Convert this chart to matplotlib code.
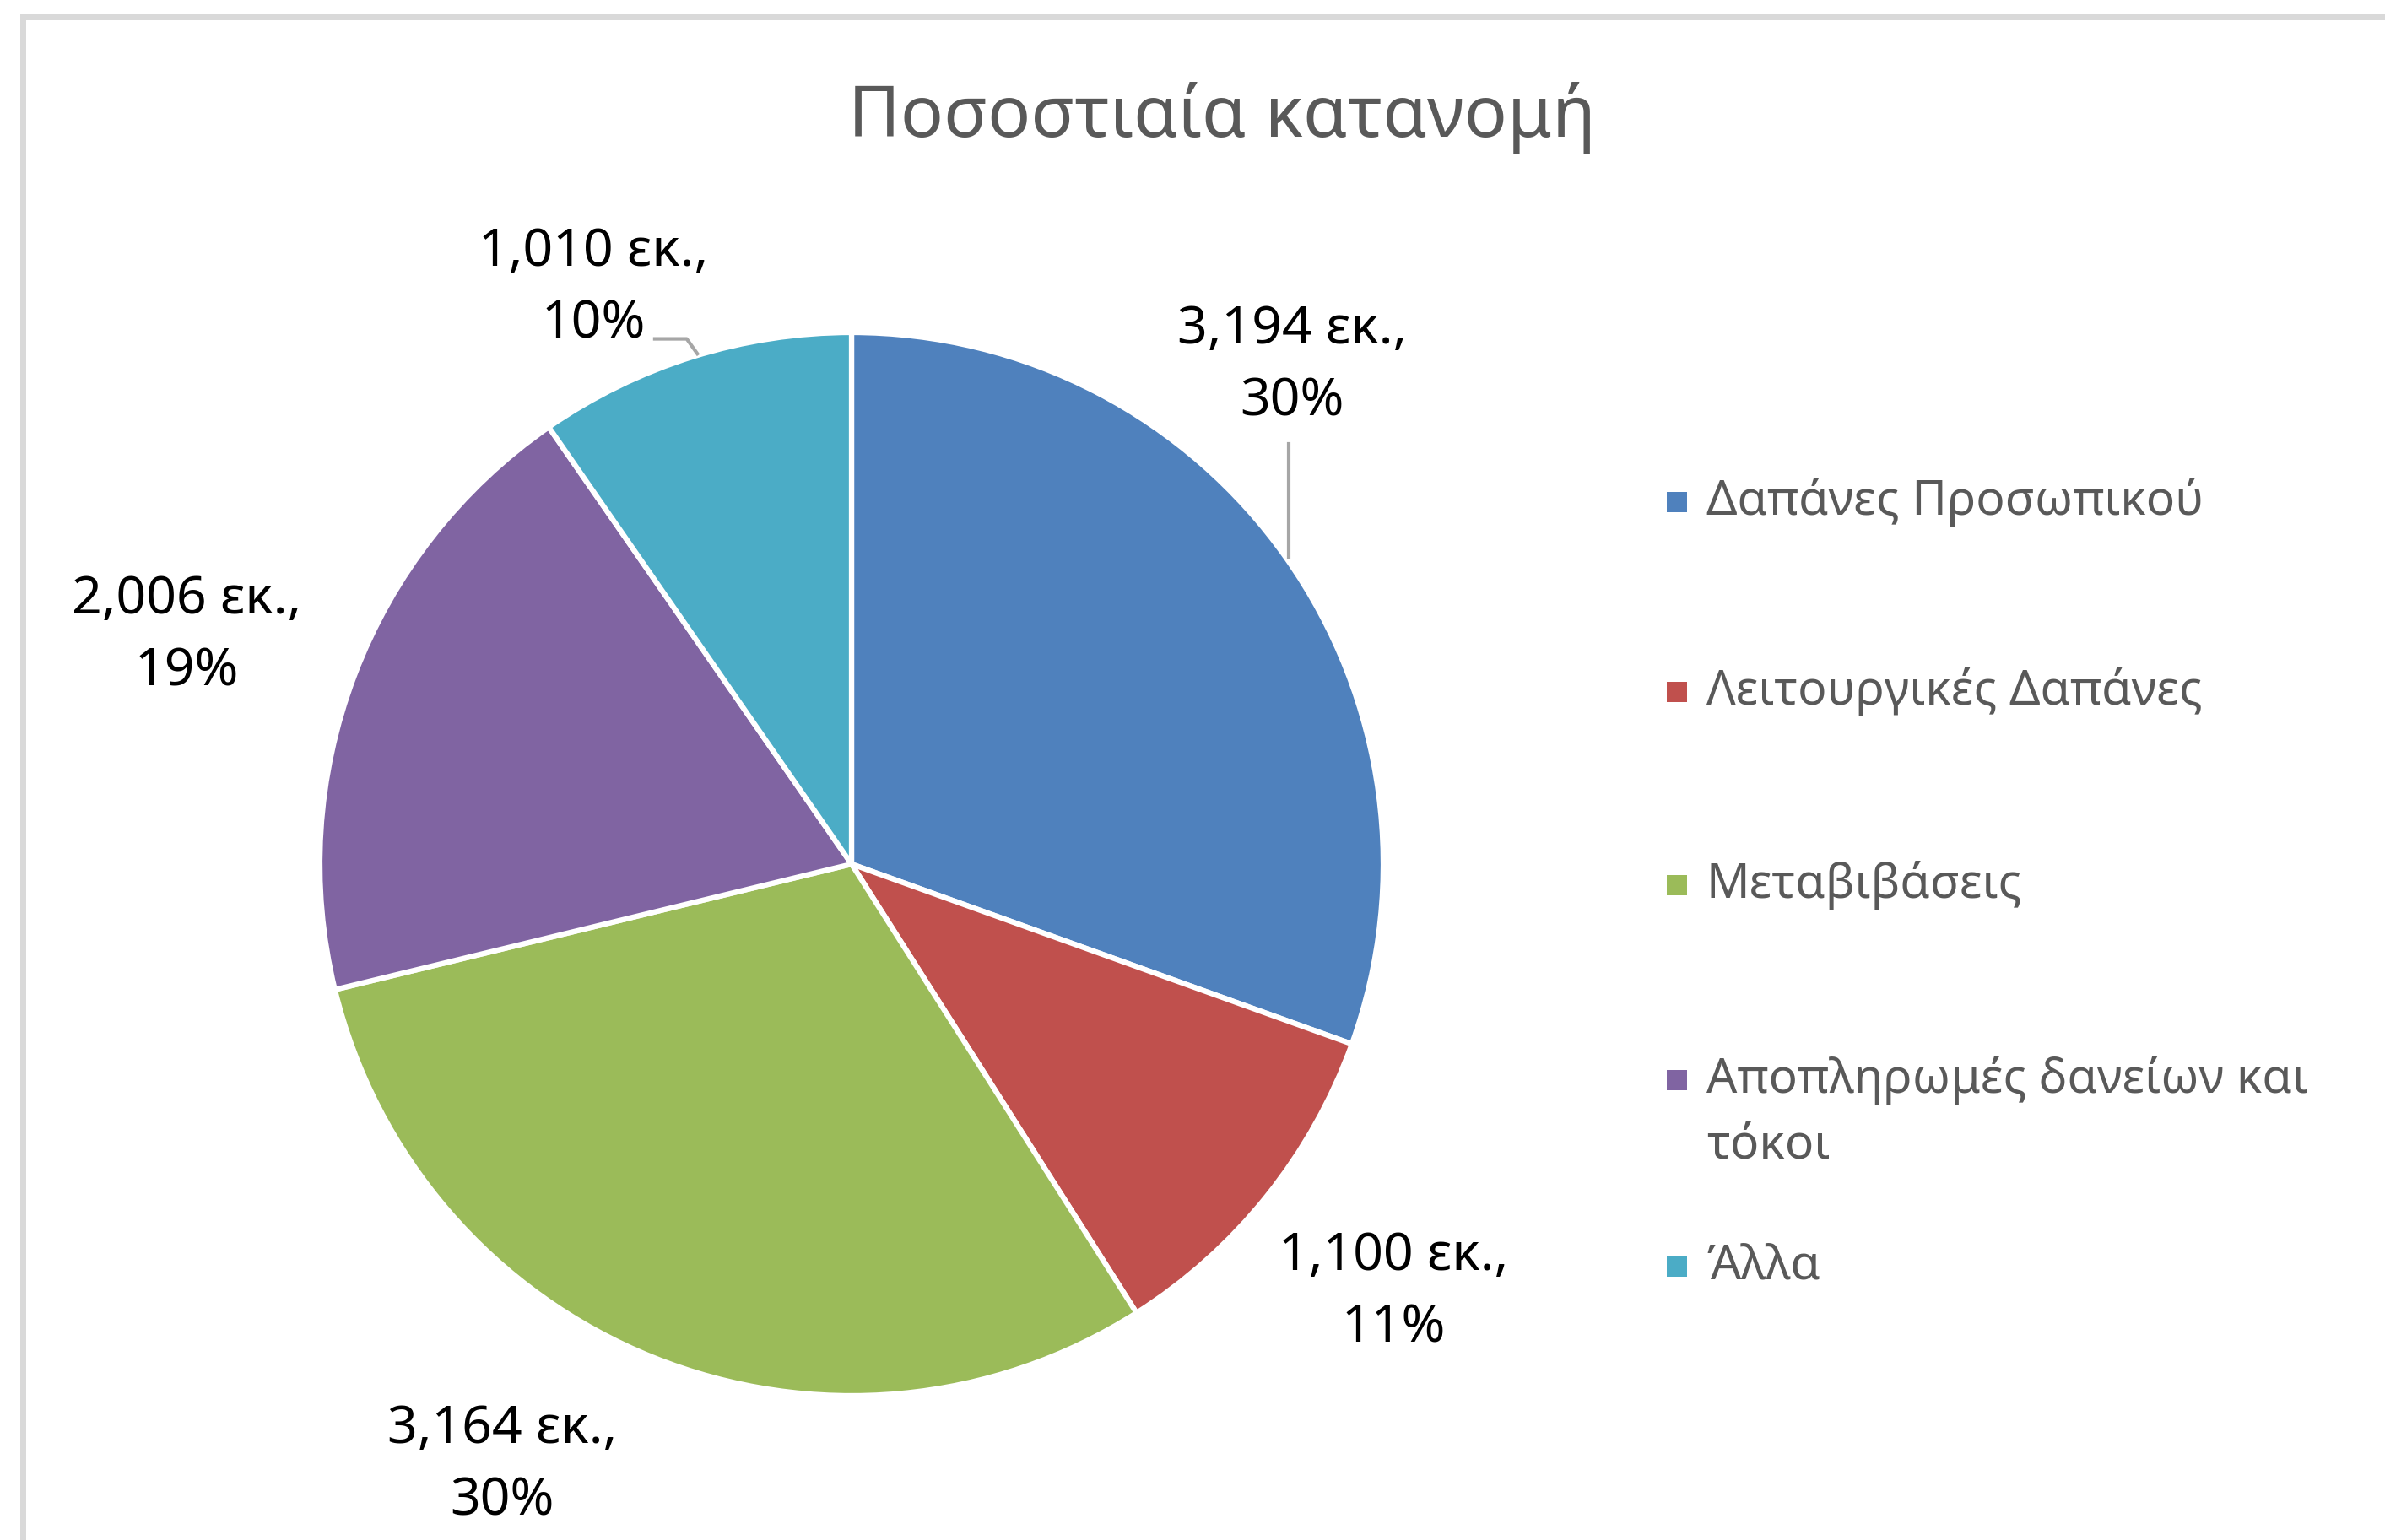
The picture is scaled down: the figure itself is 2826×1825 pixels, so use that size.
import matplotlib
matplotlib.use('Agg')
import matplotlib.pyplot as plt
from matplotlib.patches import Rectangle
from matplotlib.lines import Line2D

plt.rcParams['font.family'] = ['Noto Sans', 'DejaVu Sans']

# Δεδομένα
categories = ['Δαπάνες Προσωπικού', 'Λειτουργικές Δαπάνες', 'Μεταβιβάσεις',
              'Αποπληρωμές δανείων και\nτόκοι', 'Άλλα']
values = [3194, 1100, 3164, 2006, 1010]
colors = ['#4F81BD', '#C0504D', '#9BBB59', '#8064A2', '#4BACC6']
title = 'Ποσοστιαία κατανομή'

# θέσεις ετικετών (σε μονάδες ακτίνας)
label_pos = [(0.829, 0.937), (1.02, -0.806), (-0.657, -1.131),
             (-1.251, 0.429), (-0.486, 1.083)]

W, H, DPI = 2826, 1825, 100
fig = plt.figure(figsize=(W / DPI, H / DPI), dpi=DPI)

# πλαίσιο γραφήματος (πάνω και αριστερά)
fig.add_artist(Rectangle((26.5 / W, -0.05), 1.2, 1 - 20 / H + 0.05,
                         transform=fig.transFigure, fill=False,
                         edgecolor='#D9D9D9', linewidth=7 * 72 / DPI))

R = 630
cx, cy = 1009, H - 1024
lim = 1.4
side = 2 * lim * R
ax = fig.add_axes([(cx - side / 2) / W, (cy - side / 2) / H, side / W, side / H])
wedges, _ = ax.pie(values, colors=colors, startangle=90, counterclock=False,
                   wedgeprops=dict(edgecolor='white', linewidth=4.5))
ax.set_xlim(-lim, lim)
ax.set_ylim(-lim, lim)
ax.set_aspect('equal')
ax.axis('off')

total = sum(values)
for v, (x, y) in zip(values, label_pos):
    ax.text(x, y, f'{v:,} εκ.,\n{v / total * 100:.0f}%', ha='center', va='center',
            fontsize=45, color='#000000', linespacing=1.5)

# γραμμές οδηγοί
ax.add_line(Line2D([0.823, 0.823], [0.79, 0.578], color='#A6A6A6', lw=3))
ax.add_line(Line2D([-0.37, -0.31, -0.29], [0.988, 0.988, 0.96], color='#A6A6A6', lw=3))

fig.text(1448 / W, 1 - 140 / H, title, ha='center', va='center',
         fontsize=61, color='#595959')

# υπόμνημα
leg_y = [595, 820, 1049, 1280, 1501]
s = 24
for name, c, y in zip(categories, colors, leg_y):
    fig.add_artist(Rectangle((1975 / W, (H - y - s / 2) / H), s / W, s / H,
                             transform=fig.transFigure, facecolor=c, edgecolor='none'))
    ty = (H - y) / H
    for i, ln in enumerate(name.split('\n')):
        fig.text(2022 / W, ty - i * 78 / H, ln, ha='left', va='center',
                 fontsize=41, color='#595959')

fig.savefig('out.png', dpi=DPI, facecolor='white')
